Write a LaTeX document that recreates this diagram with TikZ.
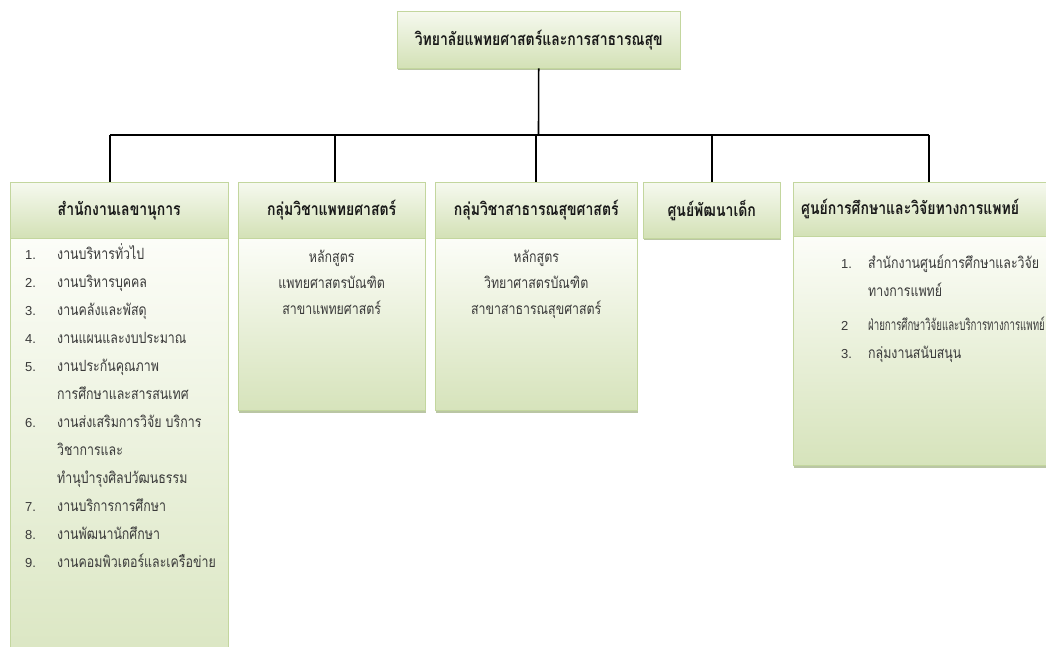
\documentclass[tikz,border=0pt]{standalone}
\usepackage{fontspec}
\newfontfamily\thaifont[Script=Thai, FakeStretch=0.8]{Loma}
\newfontfamily\numfont{Liberation Sans}
\usepackage{tikz}
\usetikzlibrary{positioning,shadows,calc}

\definecolor{boxline}{HTML}{C3D69E}
\definecolor{hdrtop}{HTML}{F6F9EF}
\definecolor{hdrbot}{HTML}{D3E1B6}
\definecolor{bodytop}{HTML}{FCFDF8}
\definecolor{bodybot}{HTML}{D6E3BB}
\definecolor{shade}{HTML}{9DAE7E}
\definecolor{bodytext}{HTML}{3A3A3A}

\newcommand{\numitem}[1]{\makebox[32pt][l]{\numfont\fontsize{13}{28}\selectfont #1}}
\newcommand{\contline}{\hspace*{32pt}}
\newcommand{\numitemr}[1]{\makebox[27pt][l]{\numfont\fontsize{13}{28}\selectfont #1}}
\newcommand{\contliner}{\hspace*{27pt}}

\tikzset{
  hdr/.style={rectangle, draw=boxline, top color=hdrtop, bottom color=hdrbot, anchor=north west, inner sep=0pt,
    font=\thaifont\bfseries\fontsize{17.5}{19}\selectfont, text=black!90,
    drop shadow={shadow xshift=1pt, shadow yshift=-2pt, fill=shade, opacity=0.7}},
  bodybox/.style={rectangle, draw=boxline, top color=bodytop, bottom color=bodybot, anchor=north, inner sep=0pt,
    drop shadow={shadow xshift=1pt, shadow yshift=-2pt, fill=shade, opacity=0.7}},
  itemlist/.style={font=\thaifont\fontsize{15.5}{28}\selectfont, text=bodytext, align=left, anchor=north west, inner sep=0pt},
  course/.style={font=\thaifont\fontsize{15.5}{26}\selectfont, text=bodytext, align=center, anchor=north, inner sep=0pt},
  link/.style={draw=black, line width=1.6pt}
}

\begin{document}
\begin{tikzpicture}[x=1pt,y=-1pt]
    \useasboundingbox (0,0) rectangle (1046,647);
    \fill[white] (0,0) rectangle (1046,647);

    % top
    \node (college) [hdr, minimum width=283pt, minimum height=57pt] at (397,11) {วิทยาลัยแพทยศาสตร์และการสาธารณสุข};
    \coordinate (bus) at (538.5,135);

    % units
    \node (sechead) [hdr, minimum width=218pt, minimum height=56pt] at (10,182) {สำนักงานเลขานุการ};
    \node (medhead) [hdr, minimum width=187pt, minimum height=56pt] at (238,182) {กลุ่มวิชาแพทยศาสตร์};
    \node (pubhead) [hdr, minimum width=202pt, minimum height=56pt] at (435,182) {กลุ่มวิชาสาธารณสุขศาสตร์};
    \node (childhead) [hdr, minimum width=137pt, minimum height=56pt] at (643,182) {ศูนย์พัฒนาเด็ก};
    \node (reshead) [hdr, minimum width=262pt, minimum height=54pt, text width=256pt, align=left] at (793,182) {\hspace*{5pt}ศูนย์การศึกษาและวิจัยทางการแพทย์};

    \node (secbody) [bodybox, minimum width=218pt, minimum height=480pt] at (sechead.south) {};
    \node (medbody) [bodybox, minimum width=187pt, minimum height=172pt] at (medhead.south) {};
    \node (pubbody) [bodybox, minimum width=202pt, minimum height=172pt] at (pubhead.south) {};
    \node (resbody) [bodybox, minimum width=262pt, minimum height=229pt] at (reshead.south) {};

    % texts
    \node (seclist) [itemlist, below right=5pt and 15pt of secbody.north west] {%
      \numitem{1.}งานบริหารทั่วไป\\
      \numitem{2.}งานบริหารบุคคล\\
      \numitem{3.}งานคลังและพัสดุ\\
      \numitem{4.}งานแผนและงบประมาณ\\
      \numitem{5.}งานประกันคุณภาพ\\
      \contline การศึกษาและสารสนเทศ\\
      \numitem{6.}งานส่งเสริมการวิจัย บริการ\\
      \contline วิชาการและ\\
      \contline ทำนุบำรุงศิลปวัฒนธรรม\\
      \numitem{7.}งานบริการการศึกษา\\
      \numitem{8.}งานพัฒนานักศึกษา\\
      \numitem{9.}งานคอมพิวเตอร์และเครือข่าย};
    \node (medcourse) [course, below=12pt of medbody.north] {หลักสูตร\\แพทยศาสตรบัณฑิต\\สาขาแพทยศาสตร์};
    \node (pubcourse) [course, below=12pt of pubbody.north] {หลักสูตร\\วิทยาศาสตรบัณฑิต\\สาขาสาธารณสุขศาสตร์};
    \node (reslist) [itemlist, below right=18pt and 48pt of resbody.north west] {%
      \numitemr{1.}สำนักงานศูนย์การศึกษาและวิจัย\\
      \contliner ทางการแพทย์\\[6pt]
      \numitemr{2}\scalebox{0.78}[1]{ฝ่ายการศึกษาวิจัยและบริการทางการแพทย์}\\
      \numitemr{3.}กลุ่มงานสนับสนุน};

    % lines
    \draw [link] (college.south) -- (bus);
    \draw [link] ([xshift=-9pt]sechead.north |- bus) -- ([xshift=5pt]reshead.north |- bus);
    \draw [link] ([xshift=-9pt]sechead.north |- bus) -- ([xshift=-9pt]sechead.north);
    \draw [link] ([xshift=3pt]medhead.north |- bus) -- ([xshift=3pt]medhead.north);
    \draw [link] (pubhead.north |- bus) -- (pubhead.north);
    \draw [link] (childhead.north |- bus) -- (childhead.north);
    \draw [link] ([xshift=5pt]reshead.north |- bus) -- ([xshift=5pt]reshead.north);
\end{tikzpicture}
\end{document}
